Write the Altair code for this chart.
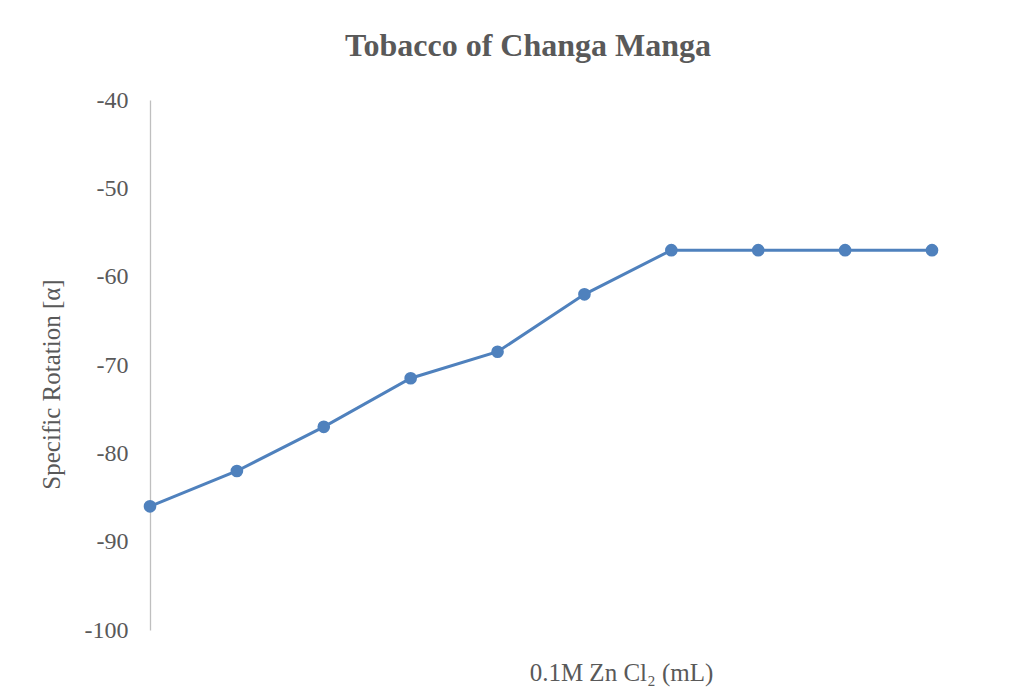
import altair as alt
import pandas as pd

volume_ml = [1, 2, 3, 4, 5, 6, 7, 8, 9, 10]
specific_rotation = [-86, -82, -77, -71.5, -68.5, -62, -57, -57, -57, -57]
y_ticks = [-100, -90, -80, -70, -60, -50, -40]

df = pd.DataFrame({"volume": volume_ml, "rotation": specific_rotation})

FONT = "Liberation Serif"
GRAY = "#595959"
BLUE = "#4F81BD"

base = alt.Chart(df).encode(
    x=alt.X(
        "volume:Q",
        scale=alt.Scale(domain=[1, 10], nice=False, zero=False),
        axis=alt.Axis(
            title="0.1M Zn Cl₂ (mL)",
            labels=False, ticks=False, domain=False, grid=False,
            titleFont=FONT, titleFontSize=25, titleFontWeight="normal",
            titleColor=GRAY, titleX=471, titleY=42, titleBaseline="middle",
        ),
    ),
    y=alt.Y(
        "rotation:Q",
        scale=alt.Scale(domain=[-100, -40], nice=False),
        axis=alt.Axis(
            title="Specific Rotation [α]",
            values=y_ticks,
            labelExpr="toString(datum.value)",
            ticks=False, grid=False, domainColor="#BFBFBF", domainWidth=1.3,
            labelFont=FONT, labelFontSize=24, labelColor=GRAY, labelPadding=22,
            titleFont=FONT, titleFontSize=25, titleFontWeight="normal",
            titleColor=GRAY, titleX=-99, titleY=284, titleBaseline="middle",
        ),
    ),
)

line = base.mark_line(color=BLUE, strokeWidth=3)
points = base.mark_circle(color=BLUE, size=160, opacity=1)

chart = (
    (line + points)
    .properties(
        width=782,
        height=530,
        title=alt.TitleParams(
            "Tobacco of Changa Manga",
            font=FONT, fontSize=32, fontWeight="bold", color=GRAY,
            anchor="middle", dx=-13, offset=25,
        ),
        autosize=alt.AutoSizeParams(type="none"),
        padding={"left": 142, "top": 92, "right": 96, "bottom": 62},
    )
    .configure_view(stroke=None)
)

chart.save("out.html", embed_options={"renderer": "svg", "actions": False})
